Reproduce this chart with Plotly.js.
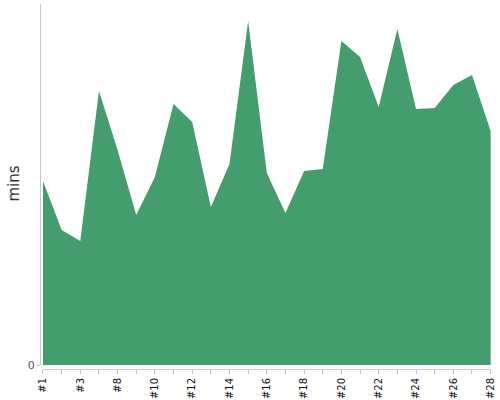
<!DOCTYPE html>
<html>
<head>
<meta charset="utf-8">
<script src="https://cdn.plot.ly/plotly-3.0.1.min.js"></script>
<style>html,body{margin:0;padding:0;background:#fff;}#chart{width:500px;height:400px;}</style>
</head>
<body>
<div id="chart"></div>
<script>
const categories = ['#1','#2','#3','#5','#8','#9','#10','#11','#12','#13','#14','#15','#16','#17','#18','#19','#20','#21','#22','#23','#24','#25','#26','#27','#28'];
const minutes = [184,135,124,274,215,150,188,261,243,158,201,344,192,152,194,196,324,308,258,336,256,257,280,290,234];
const yTickVals = [0];
const yTickText = ['0'];
const yTitle = 'mins';

const tickText = categories.map((c, i) => (i % 2 === 0 ? c : ''));

const trace = {
  type: 'scatter',
  mode: 'lines',
  x: categories,
  y: minutes,
  fill: 'tozeroy',
  fillcolor: '#449d6d',
  line: {width: 0, color: '#449d6d'},
  hoverinfo: 'x+y'
};

const layout = {
  width: 500,
  height: 400,
  margin: {l: 40, r: 9, t: 4, b: 31, pad: 0},
  paper_bgcolor: '#fff',
  plot_bgcolor: '#fff',
  showlegend: false,
  font: {family: 'DejaVu Sans, sans-serif'},
  xaxis: {
    type: 'category',
    domain: [0.0066, 1],
    anchor: 'free',
    position: 0,
    range: [0, categories.length - 1 + 0.02],
    showgrid: false,
    zeroline: false,
    showline: true,
    linecolor: '#c8c8c8',
    linewidth: 1,
    ticks: 'outside',
    ticklen: 4,
    tickcolor: '#c8c8c8',
    tickmode: 'array',
    tickvals: categories,
    ticktext: tickText,
    tickangle: -90,
    tickfont: {size: 10, color: '#111'}
  },
  yaxis: {
    domain: [4/365, 1],
    anchor: 'free',
    position: 0,
    range: [0, 361],
    showgrid: false,
    zeroline: false,
    showline: true,
    linecolor: '#c8c8c8',
    linewidth: 1,
    ticks: 'outside',
    ticklen: 3,
    tickcolor: '#c8c8c8',
    tickmode: 'array',
    tickvals: yTickVals,
    ticktext: yTickText,
    tickfont: {size: 11, color: '#555'}
  },
  annotations: [{
    text: yTitle,
    xref: 'paper', yref: 'paper',
    x: 0, y: 0.5,
    xanchor: 'center', yanchor: 'middle',
    xshift: -27, yshift: 3,
    textangle: -90,
    showarrow: false,
    font: {size: 15, color: '#333', family: 'DejaVu Sans, sans-serif'}
  }]
};

Plotly.newPlot('chart', [trace], layout, {displayModeBar: false, staticPlot: true});
</script>
</body>
</html>
